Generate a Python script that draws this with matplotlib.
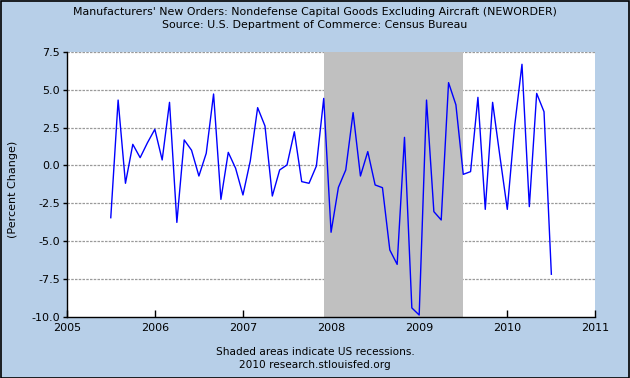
import numpy as np
import matplotlib
matplotlib.use('Agg')
import matplotlib.pyplot as plt

# percent change, monthly, starting July 2005
start_year = 2005.5
pct_change = [-3.45, 4.31, -1.18, 1.39, 0.51, 1.5, 2.38, 0.36, 4.16, -3.76,
              1.68, 1.0, -0.70, 0.8, 4.71, -2.24, 0.86, -0.19, -1.95, 0.3,
              3.81, 2.6, -2.02, -0.3, 0.03, 2.22, -1.07, -1.18, -0.04, 4.42,
              -4.41, -1.45, -0.3, 3.48, -0.7, 0.91, -1.29, -1.47, -5.58, -6.53,
              1.85, -9.4, -9.87, 4.31, -3.05, -3.6, 5.46, 4.0, -0.59, -0.41,
              4.49, -2.9, 4.16, 0.58, -2.9, 2.6, 6.67, -2.72, 4.75, 3.54,
              -7.18]
recession = (2007 + 11/12, 2009.5)
x_ticks = [2005, 2006, 2007, 2008, 2009, 2010, 2011]
y_ticks = [-10.0, -7.5, -5.0, -2.5, 0.0, 2.5, 5.0, 7.5]

titulo = "Manufacturers' New Orders: Nondefense Capital Goods Excluding Aircraft (NEWORDER)"
fonte = "Source: U.S. Department of Commerce: Census Bureau"
rodape1 = "Shaded areas indicate US recessions."
rodape2 = "2010 research.stlouisfed.org"

datas = start_year + np.arange(len(pct_change)) / 12.0

fundo = '#b7cfe8'
fig = plt.figure(figsize=(6.3, 3.78), dpi=100, facecolor=fundo)
ax = fig.add_axes([0.1059, 0.1614, 0.8392, 0.7018])
ax.set_facecolor('white')

# faixa de recessao
ax.axvspan(recession[0], recession[1], color='#c0c0c0', zorder=2, lw=0)

# grade horizontal tracejada
for v in y_ticks[1:]:
    ax.axhline(v, color='#9a9a9a', lw=0.9, ls=(0, (2, 1)), zorder=1)

ax.plot(datas, pct_change, color='#0000ff', lw=1.0, zorder=3)

ax.set_xlim(2005, 2011)
ax.set_ylim(-10, 7.5)
ax.set_xticks(x_ticks)
ax.set_yticks(y_ticks)
ax.set_yticklabels(['%.1f' % v for v in y_ticks])
ax.tick_params(axis='x', direction='in', length=5, width=1, labelsize=8, pad=4)
ax.tick_params(axis='y', direction='out', length=3, width=1, labelsize=8, pad=2)
for s in ['top', 'right']:
    ax.spines[s].set_visible(False)
for s in ['left', 'bottom']:
    ax.spines[s].set_linewidth(1.0)
    ax.spines[s].set_zorder(4)
ax.set_ylabel('(Percent Change)', fontsize=8)
ax.yaxis.set_label_coords(-0.092, 0.48)

fig.text(0.5, 1 - 12/378, titulo, ha='center', va='center', fontsize=7.9)
fig.text(0.5, 1 - 25/378, fonte, ha='center', va='center', fontsize=7.9)
fig.text(0.5, 1 - 352/378, rodape1, ha='center', va='center', fontsize=7.6)
fig.text(0.5, 1 - 365/378, rodape2, ha='center', va='center', fontsize=7.6)

# borda preta da figura
fig.patches.append(plt.Rectangle((0.001, 0.001), 0.997, 0.996, transform=fig.transFigure,
                                 fill=False, edgecolor='black', lw=1.2))

fig.savefig('out.png', dpi=100, facecolor=fundo)
